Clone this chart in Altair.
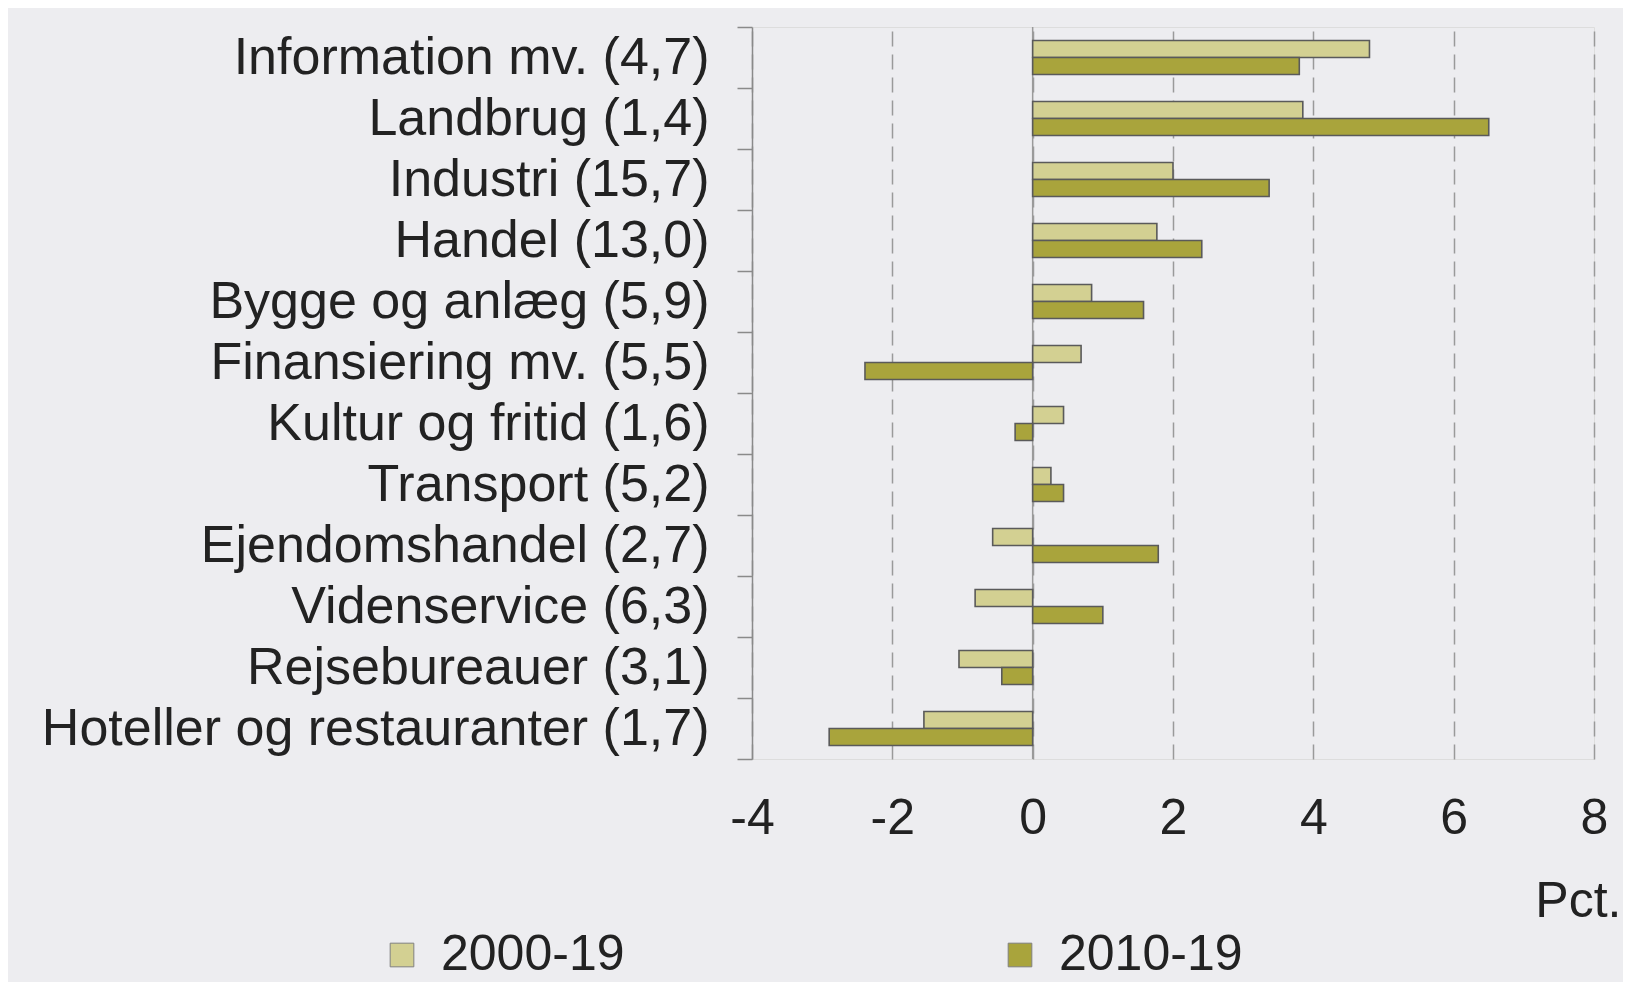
import altair as alt
import pandas as pd

categories = [
    "Information mv. (4,7)", "Landbrug (1,4)", "Industri (15,7)", "Handel (13,0)",
    "Bygge og anlæg (5,9)", "Finansiering mv. (5,5)", "Kultur og fritid (1,6)",
    "Transport (5,2)", "Ejendomshandel (2,7)", "Videnservice (6,3)",
    "Rejsebureauer (3,1)", "Hoteller og restauranter (1,7)",
]
series = ["2000-19", "2010-19"]
v2000 = [4.8, 3.85, 2.0, 1.77, 0.84, 0.69, 0.44, 0.26, -0.57, -0.82, -1.05, -1.55]
v2010 = [3.8, 6.5, 3.37, 2.41, 1.58, -2.39, -0.25, 0.44, 1.79, 1.0, -0.44, -2.9]
x_ticks = [-4, -2, 0, 2, 4, 6, 8]
colors = ["#D3D092", "#A9A43C"]
zero = [0]

rows = []
for c, a, b in zip(categories, v2000, v2010):
    rows.append({"cat": c, "series": series[0], "value": a})
    rows.append({"cat": c, "series": series[1], "value": b})
df = pd.DataFrame(rows)

FONT = "Liberation Sans"
GRID = "#9a9a9a"

x_enc = alt.X(
    "value:Q",
    scale=alt.Scale(domain=[-4, 8], nice=False, zero=False),
    axis=alt.Axis(
        values=x_ticks, title="Pct.", grid=True, gridDash=[15, 8], gridColor=GRID,
        gridWidth=1.5, domain=False, ticks=False, labelFontSize=50, labelColor="#222",
        labelFont=FONT, labelPadding=34, labelFlush=False,
        labelExpr="datum.value < 0 ? '-' + abs(datum.value) : '' + datum.value",
        titleFontSize=50, titleFontWeight="normal", titleColor="#222", titleFont=FONT,
        titleX=869, titleY=157, titleAlign="right", titleBaseline="alphabetic", titleAngle=0,
    ),
)

zero_rule = alt.Chart(pd.DataFrame({"value": zero})).mark_rule(
    color="#9a9a9a", strokeWidth=1.5
).encode(x=x_enc)

bars = alt.Chart(df).mark_bar(stroke="#5a5a5a", strokeWidth=1.6, opacity=1).encode(
    y=alt.Y(
        "cat:N", sort=categories,
        scale=alt.Scale(paddingInner=0, paddingOuter=0),
        axis=alt.Axis(
            title=None, tickBand="extent", ticks=True, tickSize=15, tickColor="#8a8a8a",
            tickWidth=1.5, domainColor="#8a8a8a", domainWidth=1.5, labelFontSize=52,
            labelColor="#222", labelPadding=28, labelFont=FONT, labelLimit=900, grid=False,
        ),
    ),
    yOffset=alt.YOffset(
        "series:N", sort=series,
        scale=alt.Scale(paddingInner=0, paddingOuter=0.79),
    ),
    x=alt.X("value:Q"),
    fill=alt.Fill(
        "series:N", scale=alt.Scale(domain=series, range=colors),
        legend=alt.Legend(
            title=None, orient="none", legendX=-375, legendY=903, direction="horizontal",
            symbolType="square", symbolSize=560, symbolStrokeColor="#808080",
            symbolStrokeWidth=1, symbolOpacity=1, labelFontSize=50, labelColor="#222",
            labelFont=FONT, labelOffset=14, labelLimit=500, columnPadding=370, padding=0,
        ),
    ),
)

chart = alt.layer(zero_rule, bars).properties(
    width=842, height=732,
    autosize=alt.AutoSizeParams(type="none"),
    padding={"left": 744, "top": 19, "right": 29, "bottom": 223},
    background="#EDEDF0",
).configure_view(stroke=None, strokeWidth=0).configure(font=FONT)

chart.save("out.html", embed_options={"renderer": "svg", "actions": False})
